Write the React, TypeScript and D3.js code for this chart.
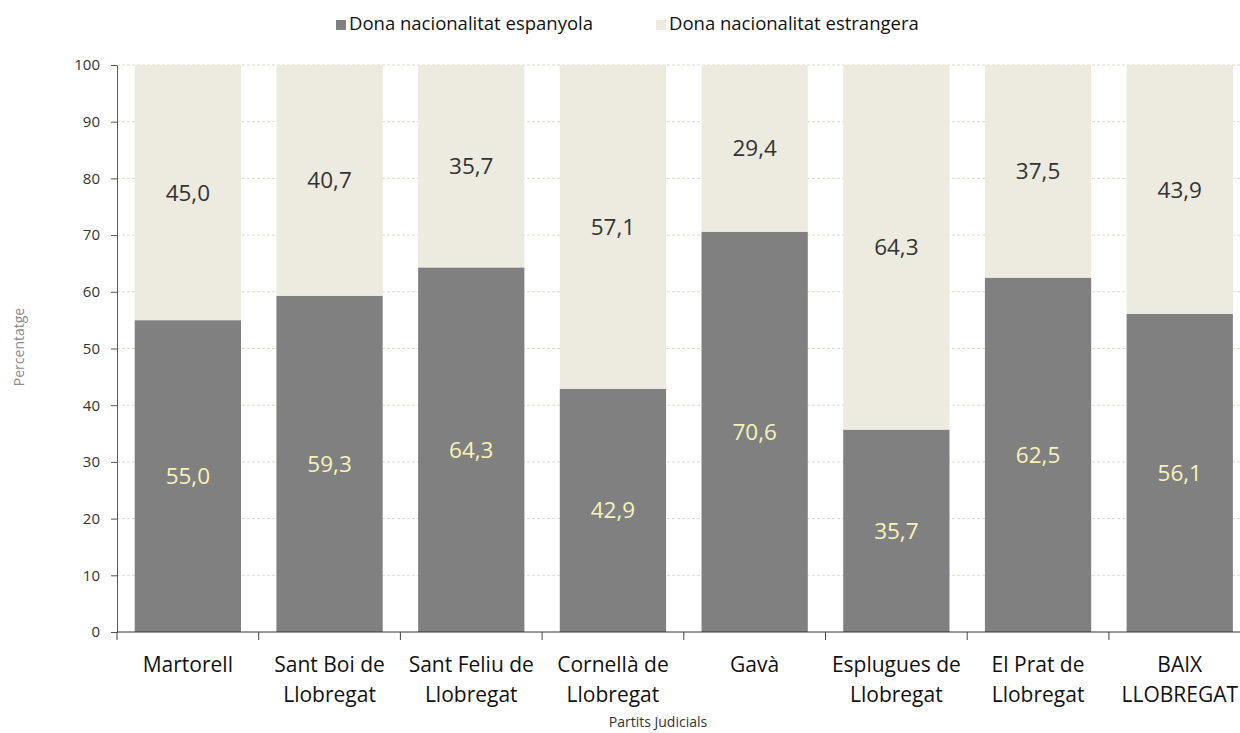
import React, { useEffect, useRef } from 'react';
import * as d3 from 'd3';

const categories = [
  ['Martorell'],
  ['Sant Boi de', 'Llobregat'],
  ['Sant Feliu de', 'Llobregat'],
  ['Cornellà de', 'Llobregat'],
  ['Gavà'],
  ['Esplugues de', 'Llobregat'],
  ['El Prat de', 'Llobregat'],
  ['BAIX', 'LLOBREGAT'],
];
const espanyola = [55.0, 59.3, 64.3, 42.9, 70.6, 35.7, 62.5, 56.1];
const estrangera = [45.0, 40.7, 35.7, 57.1, 29.4, 64.3, 37.5, 43.9];
const seriesNames = ['Dona nacionalitat espanyola', 'Dona nacionalitat estrangera'];
const yTicks = [0, 10, 20, 30, 40, 50, 60, 70, 80, 90, 100];

const App = () => {
  const ref = useRef(null);

  useEffect(() => {
    const root = d3.select(ref.current);
    root.selectAll('*').remove();

    const W = 1240, H = 733;
    const font = '"Open Sans", Lato, sans-serif';
    const colors = ['#808080', '#edeae0'];

    const svg = root.append('svg')
      .attr('width', W)
      .attr('height', H)
      .style('display', 'block')
      .style('font-family', font);

    const left = 117, top = 65, bottom = 632;
    const bandW = 141.7;
    const ids = categories.map((c, i) => String(i));
    const x = d3.scaleBand().domain(ids).range([left, left + bandW * ids.length]).paddingInner(0.25).paddingOuter(0.125);
    const y = d3.scaleLinear().domain([0, 100]).range([bottom, top]);

    // gridlines
    svg.append('g').selectAll('line').data(yTicks.filter(t => t > 0)).join('line')
      .attr('x1', left).attr('x2', W)
      .attr('y1', d => y(d)).attr('y2', d => y(d))
      .attr('stroke', '#dedbc6').attr('stroke-width', 1).attr('stroke-dasharray', '3,2');

    // bars
    const stacked = ids.map((id, i) => [
      { id, y0: 0, y1: espanyola[i], v: espanyola[i], s: 0 },
      { id, y0: espanyola[i], y1: espanyola[i] + estrangera[i], v: estrangera[i], s: 1 },
    ]).flat();

    svg.append('g').selectAll('rect').data(stacked).join('rect')
      .attr('x', d => x(d.id))
      .attr('width', x.bandwidth())
      .attr('y', d => y(Math.min(d.y1, 100)))
      .attr('height', d => y(d.y0) - y(Math.min(d.y1, 100)))
      .attr('fill', d => colors[d.s]);

    svg.append('g').selectAll('text').data(stacked).join('text')
      .attr('x', d => x(d.id) + x.bandwidth() / 2)
      .attr('y', d => y((d.y0 + d.y1) / 2))
      .attr('dy', '0.36em')
      .attr('text-anchor', 'middle')
      .attr('font-size', 22.5)
      .attr('fill', d => d.s === 0 ? '#f7f4b8' : '#333333')
      .text(d => d.v.toFixed(1).replace('.', ','));

    // y axis
    const yAxis = svg.append('g').attr('transform', `translate(${left},0)`)
      .call(d3.axisLeft(y).tickValues(yTicks).tickSize(6).tickPadding(11).tickSizeOuter(0));
    yAxis.select('.domain').attr('stroke', '#555');
    yAxis.selectAll('.tick line').attr('stroke', '#555');
    yAxis.selectAll('.tick text').attr('font-size', 15).attr('fill', '#333').attr('font-family', font);

    // x axis
    svg.append('line').attr('x1', left).attr('x2', W).attr('y1', bottom).attr('y2', bottom)
      .attr('stroke', '#333').attr('stroke-width', 1);
    svg.append('g').selectAll('line').data(d3.range(ids.length + 1)).join('line')
      .attr('x1', i => left + i * bandW).attr('x2', i => left + i * bandW)
      .attr('y1', bottom).attr('y2', bottom + 8)
      .attr('stroke', '#444');

    const xl = svg.append('g').selectAll('text').data(categories).join('text')
      .attr('x', (d, i) => x(String(i)) + x.bandwidth() / 2)
      .attr('y', 672)
      .attr('text-anchor', 'middle')
      .attr('font-size', 21)
      .attr('fill', '#111');
    xl.selectAll('tspan').data(d => d).join('tspan')
      .attr('x', function () { return d3.select(this.parentNode).attr('x'); })
      .attr('dy', (d, i) => i === 0 ? 0 : 30)
      .text(d => d);

    svg.append('text')
      .attr('x', 658).attr('y', 727)
      .attr('text-anchor', 'middle')
      .attr('font-size', 14)
      .attr('fill', '#333')
      .text('Partits Judicials');

    svg.append('text')
      .attr('transform', `translate(19,347) rotate(-90)`)
      .attr('text-anchor', 'middle')
      .attr('dy', '0.35em')
      .attr('font-size', 14)
      .attr('fill', '#8a8a8a')
      .text('Percentatge');

    // legend
    const legendX = [336, 656];
    const lg = svg.append('g').selectAll('g').data(seriesNames).join('g')
      .attr('transform', (d, i) => `translate(${legendX[i]},30)`);
    lg.append('rect').attr('x', 0).attr('y', -10).attr('width', 10).attr('height', 10)
      .attr('fill', (d, i) => colors[i]);
    lg.append('text').attr('x', 13)
      .attr('font-size', 18.5).attr('fill', '#111')
      .text(d => d);
  }, []);

  return (
    <div
      ref={ref}
      className='chartContainer'
      style={{ position: 'fixed', top: 0, left: 0, width: 1240, height: 733, overflow: 'hidden', background: '#fff' }}
    ></div>
  );
};

export default App;
